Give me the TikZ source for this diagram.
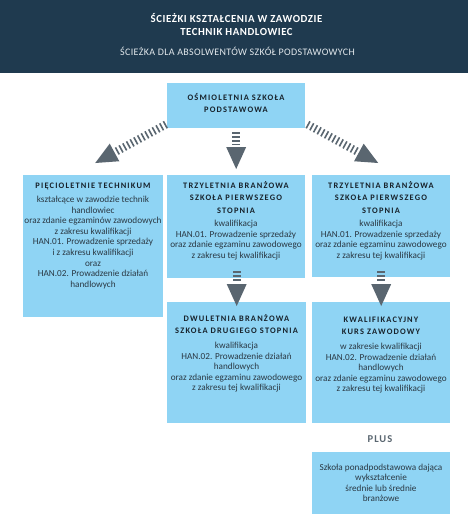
\documentclass[tikz,border=0pt]{standalone}
\usepackage{fontspec}
\setmainfont{Carlito}
\newfontfamily\hdfont[LetterSpace=14]{Carlito}
\newfontfamily\hdtfont[LetterSpace=5]{Carlito}
\newfontfamily\subfont[LetterSpace=3.5]{Carlito}
\newfontfamily\plusfont[LetterSpace=10]{Carlito}
\usetikzlibrary{calc}
\definecolor{navy}{HTML}{1F3A4F}
\definecolor{boxblue}{HTML}{8FD4F4}
\definecolor{arrgray}{HTML}{5A6670}
\definecolor{ttl}{HTML}{17222B}
\definecolor{bodyc}{HTML}{2A3843}
\definecolor{subc}{HTML}{E2E8EC}
\newcommand{\blk}[1]{\begin{tabular}[t]{@{}c@{}}#1\end{tabular}}
\newcommand{\hatcharrow}[3]{%
  \coordinate (#2b) at ($(#2)!22pt!(#1)$);
  \draw[#3] (#1) -- ($(#2)!24pt!(#1)$);
  \fill[headc] (#2) -- ($(#2b)!10pt!90:(#2)$) -- ($(#2b)!10pt!-90:(#2)$) -- cycle;}
\begin{document}
\begin{tikzpicture}[x=1pt,y=-1pt,
  box/.style={fill=boxblue, draw=none, inner sep=0pt, anchor=north west},
  ttlt/.style={anchor=base, inner sep=0pt, text=ttl, font=\hdfont\bfseries\fontsize{8.4}{12.3}\selectfont},
  bodyt/.style={anchor=base, inner sep=0pt, text=bodyc, font=\fontsize{9.2}{10.6}\selectfont},
  vstripe/.style={draw=arrgray, line width=8pt, dash pattern=on 1.5pt off 2.3pt},
  dstripe/.style={draw=arrgray, line width=8pt, dash pattern=on 1.6pt off 2.6pt},
  headc/.style={fill=arrgray}]
\useasboundingbox (0,0) rectangle (468,523);
\fill[white] (0,0) rectangle (468,523);
% header
\node[fill=navy, minimum width=468pt, minimum height=73pt, anchor=north west, inner sep=0pt] (band) at (0,0) {};
\node[anchor=base, inner sep=0pt, text=white, font=\hdtfont\bfseries\fontsize{10.8}{13}\selectfont] (title) at (236.5,22) {\blk{ŚCIEŻKI KSZTAŁCENIA W ZAWODZIE\\TECHNIK HANDLOWIEC}};
\node[anchor=base, inner sep=0pt, text=subc, font=\subfont\fontsize{10}{12}\selectfont] (subtitle) at (237.5,55.5) {ŚCIEŻKA DLA ABSOLWENTÓW SZKÓŁ PODSTAWOWYCH};
% boxes
\node[box, minimum width=138pt, minimum height=45pt] (top) at (167,83) {};
\node[box, minimum width=140pt, minimum height=142pt] (left) at (23,175) {};
\node[box, minimum width=138pt, minimum height=103pt] (mid1) at (167,175) {};
\node[box, minimum width=138pt, minimum height=102pt] (right1) at (312,175) {};
\node[box, minimum width=139pt, minimum height=121pt] (mid2) at (167,302) {};
\node[box, minimum width=138pt, minimum height=121pt] (right2) at (312,302) {};
\node[box, minimum width=138pt, minimum height=62pt] (final) at (312,452) {};
% texts
\node[ttlt] (topt) at (236,100.5) {\blk{OŚMIOLETNIA SZKOŁA\\PODSTAWOWA}};
\node[ttlt] (leftt) at (93,188.5) {PIĘCIOLETNIE TECHNIKUM};
\node[bodyt] (leftb) at (93,202.5) {\blk{kształcące w zawodzie technik\\handlowiec\\oraz zdanie egzaminów zawodowych\\z zakresu kwalifikacji\\HAN.01. Prowadzenie sprzedaży\\i z zakresu kwalifikacji\\oraz\\HAN.02. Prowadzenie działań\\handlowych}};
\node[ttlt] (mid1t) at (236,188.5) {\blk{TRZYLETNIA BRANŻOWA\\SZKOŁA PIERWSZEGO\\STOPNIA}};
\node[bodyt] (mid1b) at (236,226.5) {\blk{kwalifikacja\\HAN.01. Prowadzenie sprzedaży\\oraz zdanie egzaminu zawodowego\\z zakresu tej kwalifikacji}};
\node[ttlt] (right1t) at (381,188.5) {\blk{TRZYLETNIA BRANŻOWA\\SZKOŁA PIERWSZEGO\\STOPNIA}};
\node[bodyt] (right1b) at (381,226.5) {\blk{kwalifikacja\\HAN.01. Prowadzenie sprzedaży\\oraz zdanie egzaminu zawodowego\\z zakresu tej kwalifikacji}};
\node[ttlt] (mid2t) at (236.5,321.5) {\blk{DWULETNIA BRANŻOWA\\SZKOŁA DRUGIEGO STOPNIA}};
\node[bodyt] (mid2b) at (236.5,348.5) {\blk{kwalifikacja\\HAN.02. Prowadzenie działań\\handlowych\\oraz zdanie egzaminu zawodowego\\z zakresu tej kwalifikacji}};
\node[ttlt] (right2t) at (381,322.5) {\blk{KWALIFIKACYJNY\\KURS ZAWODOWY}};
\node[bodyt] (right2b) at (381,349.5) {\blk{w zakresie kwalifikacji\\HAN.02. Prowadzenie działań\\handlowych\\oraz zdanie egzaminu zawodowego\\z zakresu tej kwalifikacji}};
\node[anchor=base, inner sep=0pt, text=arrgray, font=\plusfont\bfseries\fontsize{10.5}{12}\selectfont] (plus) at (380,442) {PLUS};
\node[bodyt] (finalb) at (381,470) {\blk{Szkoła ponadpodstawowa dająca\\wykształcenie\\średnie lub średnie\\branżowe}};
% arrows
\coordinate (v1s) at ($(top.south)+(0,4)$);
\coordinate (v1t) at ($(mid1.north)+(0,-6)$);
\hatcharrow{v1s}{v1t}{vstripe}
\coordinate (v2s) at ($(mid1.south)+(0.5,-7)$);
\coordinate (v2t) at ($(mid2.north)+(0,4)$);
\hatcharrow{v2s}{v2t}{vstripe}
\coordinate (v3s) at ($(right1.south)+(0,-6)$);
\coordinate (v3t) at ($(right2.north)+(0,4)$);
\hatcharrow{v3s}{v3t}{vstripe}
\coordinate (d1s) at ($(top.south west)+(-1,-4)$);
\coordinate (d1t) at ($(left.north)+(2,-12)$);
\hatcharrow{d1s}{d1t}{dstripe}
\coordinate (d2s) at ($(top.south east)+(2,-4)$);
\coordinate (d2t) at ($(right1.north)+(-3,-12)$);
\hatcharrow{d2s}{d2t}{dstripe}
\end{tikzpicture}
\end{document}
